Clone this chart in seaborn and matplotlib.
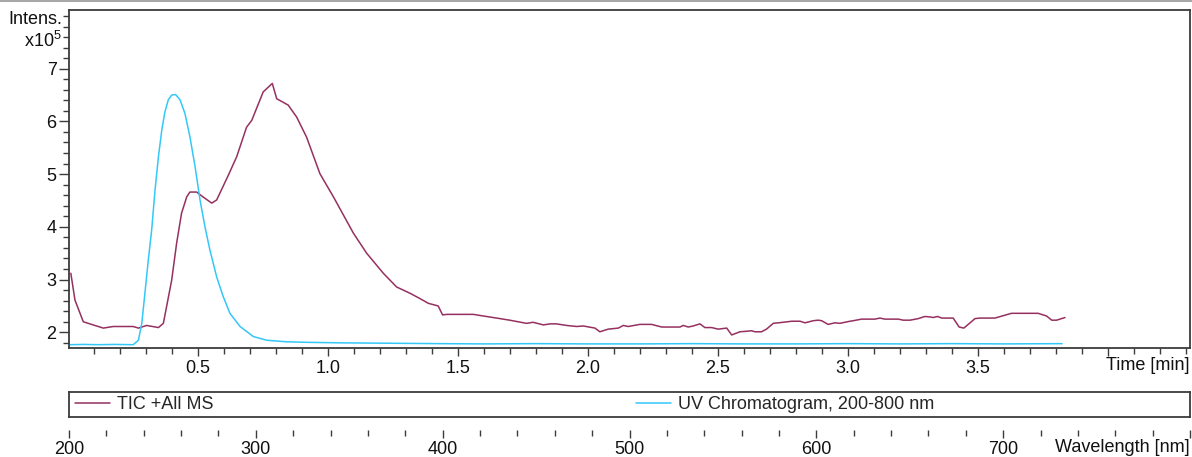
import matplotlib
matplotlib.use("Agg")
import matplotlib.pyplot as plt
from matplotlib.ticker import MultipleLocator
from matplotlib.lines import Line2D
import seaborn as sns

# TIC trace (time in min, intensity in 1e5)
tic_time = [0.012, 0.028, 0.06, 0.098, 0.137, 0.175, 0.252, 0.272, 0.304, 0.349,
            0.368, 0.40, 0.419, 0.438, 0.458, 0.47, 0.496, 0.52, 0.554, 0.573,
            0.618, 0.65,
            0.688, 0.708, 0.752, 0.787, 0.804, 0.848, 0.881, 0.919, 0.97, 1.022,
            1.099, 1.15, 1.214, 1.265, 1.317, 1.355, 1.387, 1.425, 1.442, 1.458,
            1.56, 1.598, 1.65, 1.70, 1.765, 1.79, 1.83, 1.855, 1.88, 1.919,
            1.958, 1.983, 2.028, 2.047, 2.079, 2.118, 2.137, 2.156, 2.201, 2.246,
            2.285, 2.355, 2.368, 2.387, 2.406, 2.432, 2.451, 2.477, 2.502, 2.535,
            2.554, 2.586, 2.612, 2.631, 2.643, 2.669, 2.688, 2.714, 2.752, 2.785,
            2.817, 2.836, 2.868, 2.887, 2.90, 2.925, 2.951, 2.97, 3.009, 3.022,
            3.054, 3.105, 3.124, 3.143, 3.195, 3.214, 3.24, 3.272, 3.297, 3.32,
            3.329, 3.346, 3.362, 3.406, 3.429, 3.447, 3.464, 3.49, 3.509, 3.567,
            3.63, 3.733, 3.765, 3.785, 3.804, 3.836]
tic_intens = [3.12, 2.61, 2.20, 2.14, 2.08, 2.11, 2.11, 2.08, 2.13, 2.09,
              2.17, 2.99, 3.69, 4.26, 4.57, 4.66, 4.66, 4.57, 4.45, 4.51,
              4.98, 5.33,
              5.89, 6.02, 6.56, 6.72, 6.43, 6.31, 6.08, 5.70, 5.01, 4.57,
              3.88, 3.50, 3.12, 2.86, 2.74, 2.64, 2.55, 2.50, 2.33, 2.34,
              2.34, 2.31, 2.27, 2.23, 2.17, 2.19, 2.14, 2.16, 2.16, 2.13,
              2.11, 2.12, 2.08, 2.01, 2.06, 2.08, 2.13, 2.11, 2.15, 2.15,
              2.10, 2.10, 2.13, 2.10, 2.12, 2.16, 2.09, 2.09, 2.06, 2.08,
              1.95, 2.01, 2.02, 2.03, 2.01, 2.01, 2.06, 2.17, 2.19, 2.21,
              2.21, 2.18, 2.22, 2.23, 2.22, 2.15, 2.18, 2.17, 2.21, 2.22,
              2.25, 2.25, 2.27, 2.25, 2.25, 2.23, 2.23, 2.26, 2.30, 2.29,
              2.28, 2.30, 2.27, 2.27, 2.10, 2.08, 2.15, 2.26, 2.27, 2.27,
              2.36, 2.36, 2.31, 2.23, 2.23, 2.28]

# UV chromatogram
uv_time = [0.009, 0.06, 0.12, 0.18, 0.252, 0.272, 0.285, 0.297, 0.310, 0.323,
           0.336, 0.349, 0.362, 0.374, 0.387, 0.40, 0.415, 0.432, 0.451, 0.470,
           0.49, 0.509, 0.528, 0.547, 0.573, 0.598, 0.624, 0.663, 0.714, 0.765,
           0.842, 0.919, 1.05, 1.175, 1.30, 1.43, 1.60, 1.80, 2.00, 2.20,
           2.40, 2.60, 2.80, 3.00, 3.20, 3.40, 3.60, 3.825]
uv_intens = [1.765, 1.77, 1.765, 1.77, 1.765, 1.85, 2.17, 2.74, 3.37, 3.94,
             4.70, 5.33, 5.84, 6.18, 6.41, 6.50, 6.51, 6.41, 6.15, 5.71,
             5.14, 4.51, 4.00, 3.56, 3.05, 2.68, 2.36, 2.11, 1.92, 1.85,
             1.82, 1.81, 1.80, 1.795, 1.79, 1.785, 1.78, 1.785, 1.78, 1.78,
             1.785, 1.78, 1.78, 1.785, 1.78, 1.785, 1.78, 1.785]

time_ticks = [0.5, 1.0, 1.5, 2.0, 2.5, 3.0, 3.5, 4.0]
time_labels = ['0.5', '1.0', '1.5', '2.0', '2.5', '3.0', '3.5', '']
intens_ticks = [2, 3, 4, 5, 6, 7]
wl_ticks = [200, 300, 400, 500, 600, 700, 800]
wl_labels = ['200', '300', '400', '500', '600', '700', '']

TIC_COLOR = '#953060'
UV_COLOR = '#33C8F8'
FRAME = '#3c3c3c'
FS = 13

sns.set_style("ticks")
plt.rcParams['font.family'] = ['Liberation Sans', 'DejaVu Sans']
plt.rcParams['font.size'] = FS
plt.rcParams['mathtext.default'] = 'regular'

W, H = 1192, 457
fig = plt.figure(figsize=(W / 100, H / 100), dpi=100)


def fx(px):
    return px / W


def fy(py):
    return 1 - py / H


left, right = 69, 1190
ax = fig.add_axes([fx(left), fy(347.7), fx(right) - fx(left), fy(10) - fy(347.7)])

sns.lineplot(x=tic_time, y=tic_intens, ax=ax, color=TIC_COLOR, linewidth=1.1,
             label='TIC +All MS', sort=False)
sns.lineplot(x=uv_time, y=uv_intens, ax=ax, color=UV_COLOR, linewidth=1.1,
             label='UV Chromatogram, 200-800 nm', sort=False)

handles, labels = ax.get_legend_handles_labels()
ax.get_legend().remove()

ax.set_xlim(0.005, 4.317)
ax.set_ylim(1.708, 8.113)
ax.set_xticks(time_ticks, labels=time_labels)
ax.set_yticks(intens_ticks, labels=[str(v) for v in intens_ticks])
ax.xaxis.set_minor_locator(MultipleLocator(0.1))
ax.yaxis.set_minor_locator(MultipleLocator(0.2))
ax.set_xlabel('')
ax.set_ylabel('')
ax.tick_params(which='both', color=FRAME, width=1.0, labelcolor='#111111',
               labelsize=FS)
ax.tick_params(axis='x', which='major', length=6, pad=3)
ax.tick_params(axis='x', which='minor', length=4)
ax.tick_params(axis='y', which='major', length=7, pad=2)
ax.tick_params(axis='y', which='minor', length=4)
for s in ax.spines.values():
    s.set_visible(True)
    s.set_color(FRAME)
    s.set_linewidth(1.3)

# legend strip
lax = fig.add_axes([fx(left), fy(417), fx(right) - fx(left), fy(392) - fy(417)])
lax.set_xticks([])
lax.set_yticks([])
for s in lax.spines.values():
    s.set_color(FRAME)
    s.set_linewidth(1.3)
span = right - left
leg_kw = dict(loc='center left', frameon=False, borderpad=0, borderaxespad=0,
              handlelength=1.94, handletextpad=0.39, fontsize=FS)
leg1 = lax.legend([handles[0]], [labels[0]], bbox_to_anchor=(6 / span, 0.5), **leg_kw)
lax.add_artist(leg1)
lax.legend([handles[1]], [labels[1]], bbox_to_anchor=(567 / span, 0.5), **leg_kw)

# wavelength scale
wax = fig.add_axes([fx(left), fy(430), fx(right) - fx(left), 0.0001])
wax.patch.set_visible(False)
wax.set_xlim(200, 800)
wax.set_yticks([])
for s in wax.spines.values():
    s.set_visible(False)
wax.set_xticks(wl_ticks, labels=wl_labels)
wax.xaxis.set_minor_locator(MultipleLocator(20))
wax.tick_params(axis='x', which='both', color=FRAME, width=1.0, labelcolor='#111111',
                labelsize=FS)
wax.tick_params(axis='x', which='major', length=6, pad=2)
wax.tick_params(axis='x', which='minor', length=4)

fig.text(fx(62), fy(20), 'Intens.', ha='right', va='center', color='#111111')
fig.text(fx(62), fy(41), r'x10$^5$', ha='right', va='center', color='#111111')
fig.text(fx(1189), fy(365), 'Time [min]', ha='right', va='center', color='#111111')
fig.text(fx(1190), fy(447), 'Wavelength [nm]', ha='right', va='center', color='#111111')

fig.add_artist(Line2D([0, 1], [fy(1), fy(1)], transform=fig.transFigure,
                      color='#a8a8a8', linewidth=1.5))

fig.savefig('out.png', dpi=100)
